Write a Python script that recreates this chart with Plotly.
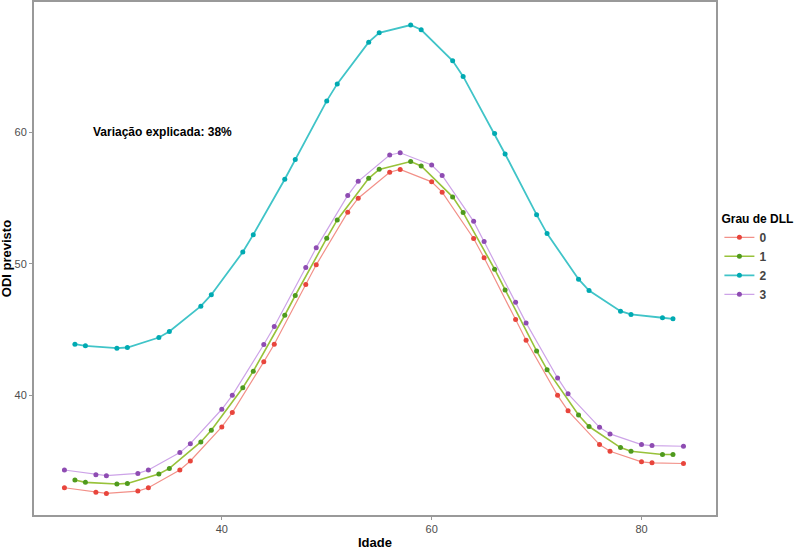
import plotly.graph_objects as go

ages_a = [25, 28, 29, 32, 33, 36, 37, 40, 41, 44, 45, 48, 49, 52, 53, 56, 57, 60, 61, 64, 65, 68, 69, 72, 73, 76, 77, 80, 81, 84]
ages_b = [26, 27, 30, 31, 34, 35, 38, 39, 42, 43, 46, 47, 50, 51, 54, 55, 58, 59, 62, 63, 66, 67, 70, 71, 74, 75, 78, 79, 82, 83]

odi_0 = [33.0, 32.65, 32.57, 32.75, 33.0, 34.35, 35.03, 37.62, 38.71, 42.56, 43.9, 48.44, 49.93, 53.93, 54.99,
         56.96, 57.17, 56.23, 55.45, 51.93, 50.46, 45.77, 44.2, 40.02, 38.84, 36.28, 35.77, 34.97, 34.89, 34.84]
odi_3 = [34.35, 33.99, 33.92, 34.09, 34.35, 35.67, 36.35, 38.96, 40.02, 43.88, 45.25, 49.73, 51.22, 55.2, 56.27,
         58.27, 58.44, 57.51, 56.72, 53.23, 51.71, 47.08, 45.52, 41.34, 40.13, 37.59, 37.09, 36.28, 36.2, 36.15]
odi_1 = [33.59, 33.41, 33.29, 33.33, 34.05, 34.47, 36.48, 37.36, 40.59, 41.85, 46.1, 47.6, 51.95, 53.34, 56.5,
         57.18, 57.77, 57.44, 55.09, 53.9, 49.6, 48.02, 43.39, 41.97, 38.53, 37.65, 36.05, 35.77, 35.52, 35.52]
odi_2 = [43.90, 43.78, 43.60, 43.65, 44.41, 44.87, 46.79, 47.66, 50.90, 52.22, 56.43, 57.92, 62.38, 63.67, 66.84,
         67.55, 68.14, 67.78, 65.42, 64.24, 59.90, 58.35, 53.74, 52.30, 48.84, 47.98, 46.41, 46.16, 45.91, 45.83]

series = [
    ("0", ages_a, odi_0, "#F29088", "#E8453C", 1.2),
    ("1", ages_b, odi_1, "#98C23A", "#4F9A1E", 1.6),
    ("2", ages_b, odi_2, "#40C4C8", "#00AAB2", 1.8),
    ("3", ages_a, odi_3, "#CDA3E8", "#8E4CB2", 1.2),
]

FONT = "Liberation Sans, Arial"

fig = go.Figure()
for name, x, y, lc, mc, lw in series:
    fig.add_trace(go.Scatter(
        x=x, y=y, name="<b>" + name + "</b>", mode="lines+markers",
        line=dict(color=lc, width=lw),
        marker=dict(color=mc, size=5),
    ))

fig.add_annotation(x=34.35, y=60, xref="x", yref="y", text="<b>Variação explicada: 38%</b>",
                   showarrow=False, font=dict(size=12, color="black", family=FONT))
fig.add_annotation(x=0.5, y=-0.054, xref="paper", yref="paper", yanchor="middle",
                   text="<b>Idade</b>", showarrow=False,
                   font=dict(size=13, color="black", family=FONT))
fig.add_annotation(x=-0.04, y=0.5, xref="paper", yref="paper", xanchor="center",
                   text="<b>ODI previsto</b>", showarrow=False, textangle=-90,
                   font=dict(size=13, color="black", family=FONT))

fig.update_layout(
    width=800, height=549,
    margin=dict(l=34, r=84, t=2, b=34, autoexpand=False),
    plot_bgcolor="white", paper_bgcolor="white",
    font=dict(family=FONT, size=11, color="#4D4D4D"),
    showlegend=True,
    legend=dict(
        title=dict(text="<b>Grau de DLL</b>", font=dict(size=12, color="black")),
        x=1.005, xanchor="left", y=0.6, yanchor="top",
        font=dict(size=12, color="#444444"),
        tracegroupgap=0, itemwidth=30,
        bgcolor="rgba(0,0,0,0)",
    ),
)
fig.update_xaxes(
    range=[22.1, 87.1], tickvals=[40, 60, 80], showgrid=False, zeroline=False,
    showline=True, linecolor="#999999", linewidth=2, mirror=True,
    ticks="outside", ticklen=3, tickcolor="#999999", automargin=False,
    tickfont=dict(size=11, color="#4D4D4D"),
)
fig.update_yaxes(
    range=[30.93, 69.89], tickvals=[40, 50, 60], showgrid=False, zeroline=False,
    showline=True, linecolor="#999999", linewidth=2, mirror=True,
    ticks="outside", ticklen=3, tickcolor="#999999", automargin=False,
    tickfont=dict(size=11, color="#4D4D4D"),
)

fig.write_html("out.html", config={"displayModeBar": False},
               post_script="document.body.style.margin='0';")
